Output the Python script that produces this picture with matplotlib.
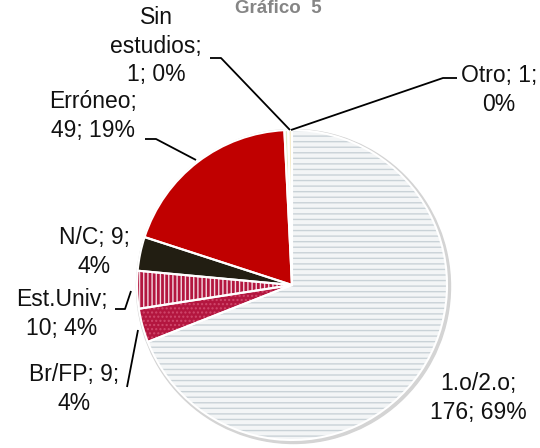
import matplotlib
matplotlib.use("Agg")
import matplotlib.pyplot as plt
from matplotlib.patches import Circle

plt.rcParams['font.family'] = ['Liberation Sans', 'DejaVu Sans']
plt.rcParams['hatch.linewidth'] = 1.0

# data (clockwise from 12 o'clock)
categories = ['1.o/2.o', 'Br/FP', 'Est.Univ', 'N/C', 'Erróneo', 'Sin estudios', 'Otro']
counts = [176, 9, 10, 9, 49, 1, 1]
percents = ['69%', '4%', '4%', '4%', '19%', '0%', '0%']

face_colors = ['#f3f5f6', '#b3163f', '#b3163f', '#221e12', '#c00000', '#dfe8c4', '#f6ecc8']
hatch_colors = ['#c9d2d7', '#d0486c', '#f2d8e0', '#221e12', '#c00000', '#dfe8c4', '#f6ecc8']
hatches = ['---', '....', '||||', '', '', '', '']

W, H = 540, 448
cx, cy, R = 292, H - 285, 155

fig = plt.figure(figsize=(5.4, 4.48), dpi=100)
ax = fig.add_axes([0, 0, 1, 1])

# soft shadow ring
ax.add_patch(Circle((cx + 1.5, cy - 1.5), R + 2, color='#d4d4d4', zorder=0))

wedges, _ = ax.pie(counts, startangle=90, counterclock=False,
                   center=(cx, cy), radius=R,
                   wedgeprops=dict(linewidth=0))
for w, fc, hc, h in zip(wedges, face_colors, hatch_colors, hatches):
    w.set_facecolor(fc)
    w.set_edgecolor(hc)
    w.set_hatch(h)
    w.set_zorder(1)

# white borders between slices
borders, _ = ax.pie(counts, startangle=90, counterclock=False,
                    center=(cx, cy), radius=R,
                    wedgeprops=dict(facecolor='none', edgecolor='white', linewidth=1.5))
for b in borders:
    b.set_zorder(2)

ax.set_xlim(0, W)
ax.set_ylim(0, H)
ax.set_aspect('equal')
ax.axis('off')

fs = 16.5
ls = 1.3
txt = dict(ha='center', va='center', fontsize=fs, linespacing=ls, color='#111111')

# label positions (pixel coords, y from top)
ax.text(478, H - 398, "1.o/2.o;\n176; 69%", **txt)
ax.text(74, H - 389, "Br/FP; 9;\n4%", **txt)
ax.text(62, H - 314, "Est.Univ;\n10; 4%", **txt)
ax.text(94, H - 252, "N/C; 9;\n4%", **txt)
ax.text(93, H - 116, "Erróneo;\n49; 19%", **txt)
ax.text(156, H - 46, "Sin\nestudios;\n1; 0%", **txt)
ax.text(499, H - 90, "Otro; 1;\n0%", **txt)

# leader lines
leaders = [
    [(457, 78), (443, 78), (291, 130)],
    [(210, 58), (221, 58), (290, 130)],
    [(145, 139), (156, 139), (196, 160)],
    [(115, 309), (125, 309), (131, 291)],
    [(127, 387), (138, 330)],
]
for pts in leaders:
    xs = [p[0] for p in pts]
    ys = [H - p[1] for p in pts]
    ax.plot(xs, ys, color='black', lw=1.3, zorder=3, solid_capstyle='butt')

ax.text(278, H - 8, "Gráfico  5", ha='center', va='center', fontsize=13.5,
        fontweight='bold', color='#858585')

fig.savefig("out.png", dpi=100)
